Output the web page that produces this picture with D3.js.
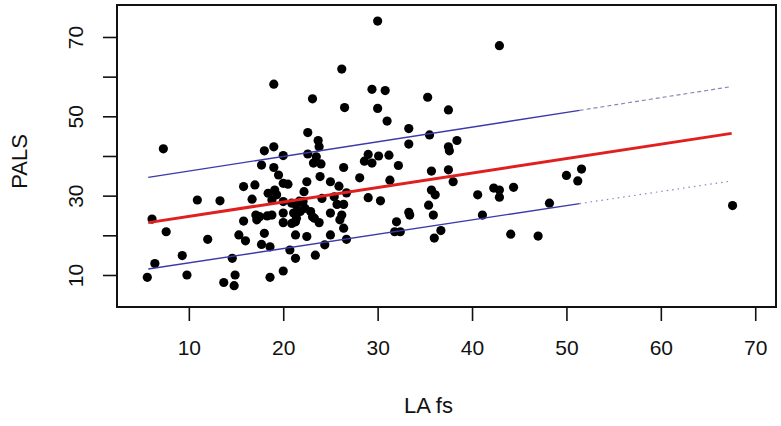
<!DOCTYPE html>
<html>
<head>
<meta charset="utf-8">
<script src="https://cdn.jsdelivr.net/npm/d3@7"></script>
<style>
  body { margin: 0; background: #fff; }
  text { font-family: "Liberation Sans", Arial, sans-serif; fill: #111; }
</style>
</head>
<body>
<div class="chart"></div>
<script>
// LA fs values (x) and PALS values (y)
var laFs = [5.6, 6.4, 6.1, 7.3, 7.6, 9.3, 9.8, 10.9, 12.0, 13.3, 13.7, 14.8, 14.9, 14.6, 15.3, 16.0,
    15.8, 15.8, 17.0, 16.7, 17.1, 17.2, 17.5, 18.3, 18.8, 17.7, 18.0, 19.0, 19.0, 19.0, 19.5, 18.4,
    19.1, 19.3, 18.8, 18.0, 17.7, 18.6, 18.6, 20.0, 20.0, 20.5, 20.0, 20.0, 20.0, 20.0, 20.7, 20.9,
    21.4, 20.9, 21.1, 21.4, 21.3, 21.3, 21.3, 22.1, 22.3, 21.8, 21.7, 22.2, 22.5, 22.6, 22.6, 23.1,
    22.5, 22.9, 23.1, 23.3, 23.2, 23.5, 23.7, 23.8, 24.0, 23.9, 23.4, 23.8, 24.1, 24.4, 25.0, 25.4,
    25.7, 26.4, 25.0, 26.2, 26.0, 26.4, 26.7, 25.0, 26.2, 26.5, 26.4, 25.9, 26.7, 28.1, 28.6, 29.0,
    29.4, 30.1, 31.2, 29.4, 30.8, 30.0, 30.0, 31.0, 29.0, 30.3, 31.3, 32.2, 33.3, 33.3, 32.0, 31.8,
    32.4, 33.3, 33.4, 35.3, 35.5, 35.7, 35.7, 36.1, 35.4, 35.9, 36.7, 36.0, 37.5, 37.5, 37.6, 38.4,
    37.5, 38.0, 40.6, 41.1, 42.3, 42.9, 42.9, 42.9, 44.4, 44.1, 47.0, 48.2, 50.0, 51.6, 51.2, 67.6];
var pals = [9.4, 12.9, 24.1, 41.8, 20.9, 14.9, 10.0, 28.9, 19.0, 28.7, 8.1, 7.3, 10.0, 14.2, 20.1, 18.6,
    32.3, 23.6, 32.7, 29.1, 25.1, 23.9, 24.7, 24.9, 25.1, 37.7, 41.3, 42.3, 58.1, 37.1, 35.2, 30.6,
    31.4, 30.2, 28.9, 20.5, 17.7, 17.1, 9.4, 40.1, 33.1, 32.9, 28.5, 25.6, 23.2, 11.0, 16.3, 28.1,
    27.6, 23.0, 25.6, 24.3, 23.4, 20.1, 14.2, 28.5, 26.8, 26.0, 28.6, 31.0, 33.5, 40.5, 45.9, 54.4,
    19.7, 26.0, 24.7, 24.3, 38.2, 39.8, 43.9, 42.3, 38.0, 34.8, 15.0, 23.2, 29.3, 17.6, 33.5, 29.7,
    27.8, 27.8, 25.6, 25.1, 23.9, 21.8, 19.0, 20.1, 61.9, 52.2, 37.1, 32.4, 30.7, 34.5, 38.7, 40.4,
    38.2, 40.0, 40.2, 56.8, 56.5, 74.0, 52.0, 48.8, 29.5, 28.7, 33.9, 37.6, 46.9, 43.0, 23.4, 20.9,
    20.9, 25.8, 25.1, 54.8, 45.3, 36.2, 31.4, 30.2, 27.6, 25.1, 21.2, 19.3, 51.6, 42.3, 41.3, 43.9,
    36.5, 33.5, 30.2, 25.1, 31.9, 31.4, 29.6, 67.8, 32.1, 20.3, 19.8, 28.1, 35.1, 36.7, 33.7, 27.5];

// fitted line and prediction band ends: [LA fs, PALS]
var fitLine = [[5.7, 23.2], [67.5, 45.7]];
var upperBand = [[5.7, 34.6], [51.4, 51.5]];
var upperBandExt = [[51.4, 51.5], [67.5, 57.5]];
var lowerBand = [[5.7, 11.5], [51.4, 28.0]];
var lowerBandExt = [[51.4, 28.0], [67.5, 33.7]];

var xTicks = [10, 20, 30, 40, 50, 60, 70];
var yTicks = [10, 20, 30, 40, 50, 60, 70];
var yTickLabels = [10, 30, 50, 70];

var margin = {top: 5, right: 5, bottom: 119, left: 117},
    width = 781 - margin.left - margin.right,
    height = 426 - margin.top - margin.bottom;

var data = laFs.map(function (d, i) {
    return {x: d, y: pals[i]};
});

var xScale = d3.scaleLinear().domain([2.39, 72.2]).range([0, width]);
var yScale = d3.scaleLinear().domain([1.93, 78.06]).range([height, 0]);

var svg = d3.select(".chart").append("svg")
    .attr("width", 781)
    .attr("height", 426)
    .append("g")
    .attr("transform", "translate(" + margin.left + "," + margin.top + ")");

// x axis
var xAxis = d3.axisBottom(xScale).tickValues(xTicks).tickSize(14).tickPadding(19);
var gx = svg.append("g")
    .attr("transform", "translate(0," + height + ")")
    .call(xAxis);
gx.select(".domain").remove();
gx.selectAll("line").attr("stroke", "#111").attr("stroke-width", 1.6);
gx.selectAll("text").style("font-size", "21px");

// y axis, R style: rotated labels, only every other one shown
var yAxis = d3.axisLeft(yScale).tickValues(yTicks).tickSize(14).tickFormat(function (d) {
    return yTickLabels.indexOf(d) >= 0 ? d : "";
});
var gy = svg.append("g").call(yAxis);
gy.select(".domain").remove();
gy.selectAll("line").attr("stroke", "#111").attr("stroke-width", 1.6);
gy.selectAll("text")
    .attr("x", null)
    .attr("dy", null)
    .attr("transform", "translate(-34,0) rotate(-90)")
    .style("text-anchor", "middle")
    .style("font-size", "21px");

// frame
svg.append("rect")
    .attr("width", width)
    .attr("height", height)
    .attr("fill", "none")
    .attr("stroke", "#111")
    .attr("stroke-width", 2);

var line = d3.line()
    .x(function (d) { return xScale(d[0]); })
    .y(function (d) { return yScale(d[1]); });

// dots
svg.selectAll(".dot")
    .data(data)
    .enter().append("circle")
    .attr("class", "dot")
    .attr("r", 4.6)
    .attr("cx", function (d) { return xScale(d.x); })
    .attr("cy", function (d) { return yScale(d.y); })
    .style("fill", "#000");

// band lines
svg.append("path").datum(upperBand).attr("d", line)
    .attr("fill", "none").attr("stroke", "#3a3aa8").attr("stroke-width", 1.4);
svg.append("path").datum(lowerBand).attr("d", line)
    .attr("fill", "none").attr("stroke", "#3a3aa8").attr("stroke-width", 1.4);
svg.append("path").datum(upperBandExt).attr("d", line)
    .attr("fill", "none").attr("stroke", "#8888b8").attr("stroke-width", 1.2)
    .attr("stroke-dasharray", "4,3");
svg.append("path").datum(lowerBandExt).attr("d", line)
    .attr("fill", "none").attr("stroke", "#8888b8").attr("stroke-width", 1.2)
    .attr("stroke-dasharray", "1.5,4");

// fitted line
svg.append("path").datum(fitLine).attr("d", line)
    .attr("fill", "none").attr("stroke", "#e02020").attr("stroke-width", 3);

// axis titles
svg.append("text")
    .attr("x", 311.5)
    .attr("y", 407.7)
    .style("text-anchor", "middle")
    .style("font-size", "22px")
    .text("LA fs");

svg.append("text")
    .attr("transform", "translate(-90,156.5) rotate(-90)")
    .style("text-anchor", "middle")
    .style("font-size", "22px")
    .text("PALS");
</script>
</body>
</html>
